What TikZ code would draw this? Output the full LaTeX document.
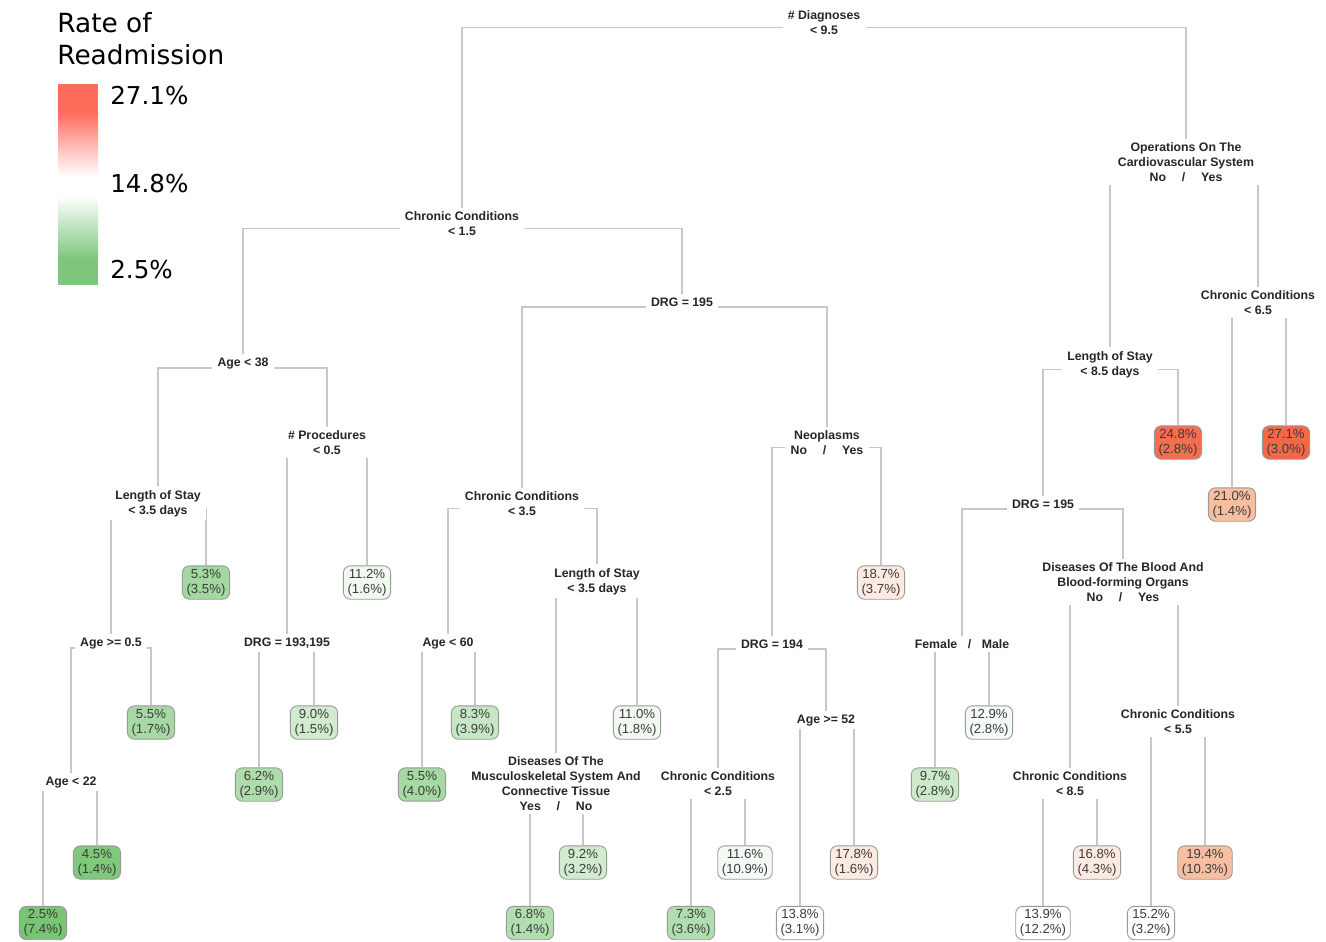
\documentclass[tikz,border=0pt]{standalone}
\usepackage{fontspec}
\setmainfont{Liberation Sans}
\newfontfamily\legendfont{DejaVu Sans}
\usepackage{xcolor}
\usepackage{tikz}
\usetikzlibrary{calc, backgrounds}
\definecolor{lowgreen}{RGB}{120,198,115}
\definecolor{highred}{RGB}{244,104,72}
\definecolor{warmred}{RGB}{240,120,60}
\definecolor{legendred}{RGB}{255,108,92}
\definecolor{legendgreen}{RGB}{125,198,123}
\definecolor{branchgray}{RGB}{200,200,200}
\definecolor{leaftext}{RGB}{60,60,60}
\tikzset{
  split/.style={rectangle, fill=white, inner xsep=3pt, inner ysep=2pt, align=center, font=\fontsize{7}{8.5}\selectfont\bfseries, text=black!85},
  leaf/.style={rectangle, rounded corners=4pt, draw=gray!80, line width=0.5pt, inner xsep=2.4pt, inner ysep=1.8pt, align=center, font=\fontsize{7.5}{8.6}\selectfont, text=leaftext},
  branch/.style={draw=branchgray, line width=0.7pt, to path={($(\tikztostart.center)+(0,-2.8pt)$) -| (\tikztotarget.north)}},
  legendlabel/.style={anchor=west, inner sep=0pt, font=\legendfont\fontsize{14}{16}\selectfont}
}

\begin{document}
\begin{tikzpicture}[x=0.02cm, y=-0.02cm]
    \useasboundingbox (0,0) rectangle (1326,941);

    % Legend
    \node[anchor=north west, inner sep=0pt, align=left, font=\legendfont\fontsize{15}{18.2}\selectfont] (legtitle) at (57,12) {Rate of\\Readmission};
    \fill[legendred] (58,84) rectangle (98,113);
    \shade[top color=legendred, bottom color=white] (58,112) rectangle (98,176);
    \shade[top color=white, bottom color=legendgreen] (58,196) rectangle (98,259);
    \fill[legendgreen] (58,258) rectangle (98,285);
    \node[legendlabel] (legmax) at (110,96) {27.1\%};
    \node[legendlabel] (legmid) at (110,184) {14.8\%};
    \node[legendlabel] (legmin) at (110,270) {2.5\%};

    % Splits
    \node[split] (root) at (824,22.5) {\# Diagnoses\\< 9.5};
    \node[split] (cc15) at (462,223.5) {Chronic Conditions\\< 1.5};
    \node[split, inner xsep=6pt] (ops) at (1186,162) {Operations On The\\Cardiovascular System\\No\hspace{9pt}/\hspace{9pt}Yes};
    \node[split] (age38) at (243,363) {Age < 38};
    \node[split] (drg195a) at (682,302) {DRG = 195};
    \node[split] (cc65) at (1258,302.5) {Chronic Conditions\\< 6.5};
    \node[split] (los85) at (1110,364.5) {Length of Stay\\< 8.5 days};
    \node[split] (proc) at (327,442.5) {\# Procedures\\< 0.5};
    \node[split] (neo) at (827,442.5) {Neoplasms\\No\hspace{9pt}/\hspace{9pt}Yes};
    \node[split] (los35a) at (158,503.5) {Length of Stay\\< 3.5 days};
    \node[split] (cc35) at (522,503.5) {Chronic Conditions\\< 3.5};
    \node[split] (drg195b) at (1043,504) {DRG = 195};
    \node[split] (los35b) at (597,581.5) {Length of Stay\\< 3.5 days};
    \node[split] (blood) at (1123,582) {Diseases Of The Blood And\\Blood-forming Organs\\No\hspace{9pt}/\hspace{9pt}Yes};
    \node[split] (age05) at (111,643) {Age >= 0.5};
    \node[split] (drg193) at (287,643) {DRG = 193,195};
    \node[split] (age60) at (448,643) {Age < 60};
    \node[split] (drg194) at (772,644) {DRG = 194};
    \node[split] (sex) at (962,644) {Female\hspace{6pt}/\hspace{6pt}Male};
    \node[split] (age52) at (826,720) {Age >= 52};
    \node[split] (cc55) at (1178,721.5) {Chronic Conditions\\< 5.5};
    \node[split] (age22) at (71,782) {Age < 22};
    \node[split] (musc) at (556,783.5) {Diseases Of The\\Musculoskeletal System And\\Connective Tissue\\Yes\hspace{9pt}/\hspace{9pt}No};
    \node[split] (cc25) at (718,783.5) {Chronic Conditions\\< 2.5};
    \node[split] (cc85) at (1070,783.5) {Chronic Conditions\\< 8.5};

    % Leaves
    \node[leaf, fill=lowgreen!68] (l53) at (206,582.5) {5.3\%\\(3.5\%)};
    \node[leaf, fill=lowgreen!10] (l112) at (367,582.5) {11.2\%\\(1.6\%)};
    \node[leaf, fill=warmred!15] (l187) at (881,582.5) {18.7\%\\(3.7\%)};
    \node[leaf, fill=highred!96] (l248) at (1178,442.5) {24.8\%\\(2.8\%)};
    \node[leaf, fill=highred] (l271) at (1286,442.5) {27.1\%\\(3.0\%)};
    \node[leaf, fill=warmred!48] (l210) at (1232,504.5) {21.0\%\\(1.4\%)};
    \node[leaf, fill=lowgreen!66] (l55a) at (151,722.5) {5.5\%\\(1.7\%)};
    \node[leaf, fill=lowgreen!35] (l90) at (314,722.5) {9.0\%\\(1.5\%)};
    \node[leaf, fill=lowgreen!42] (l83) at (475,722.5) {8.3\%\\(3.9\%)};
    \node[leaf, fill=lowgreen!10] (l110) at (637,722.5) {11.0\%\\(1.8\%)};
    \node[leaf, fill=lowgreen!8] (l129) at (989,722.5) {12.9\%\\(2.8\%)};
    \node[leaf, fill=lowgreen!60] (l62) at (259,784.5) {6.2\%\\(2.9\%)};
    \node[leaf, fill=lowgreen!66] (l55b) at (422,784.5) {5.5\%\\(4.0\%)};
    \node[leaf, fill=lowgreen!38] (l97) at (935,784.5) {9.7\%\\(2.8\%)};
    \node[leaf, fill=lowgreen!95] (l45) at (97,862.5) {4.5\%\\(1.4\%)};
    \node[leaf, fill=lowgreen!35] (l92) at (583,862.5) {9.2\%\\(3.2\%)};
    \node[leaf, fill=lowgreen!8] (l116) at (745,862.5) {11.6\%\\(10.9\%)};
    \node[leaf, fill=warmred!15] (l178) at (854,862.5) {17.8\%\\(1.6\%)};
    \node[leaf, fill=warmred!15] (l168) at (1097,862.5) {16.8\%\\(4.3\%)};
    \node[leaf, fill=warmred!48] (l194) at (1205,862.5) {19.4\%\\(10.3\%)};
    \node[leaf, fill=lowgreen] (l25) at (43,923) {2.5\%\\(7.4\%)};
    \node[leaf, fill=lowgreen!58] (l68) at (530,923) {6.8\%\\(1.4\%)};
    \node[leaf, fill=lowgreen!58] (l73) at (691,923) {7.3\%\\(3.6\%)};
    \node[leaf, fill=white] (l138) at (800,923) {13.8\%\\(3.1\%)};
    \node[leaf, fill=white] (l139) at (1043,923) {13.9\%\\(12.2\%)};
    \node[leaf, fill=white] (l152) at (1151,923) {15.2\%\\(3.2\%)};

    % Branches
    \begin{scope}[on background layer]
    \draw[branch] (root) to (cc15);
    \draw[branch] (root) to (ops);
    \draw[branch] (cc15) to (age38);
    \draw[branch] (cc15) to (drg195a);
    \draw[branch] (ops) to (los85);
    \draw[branch] (ops) to (cc65);
    \draw[branch] (age38) to (los35a);
    \draw[branch] (age38) to (proc);
    \draw[branch] (drg195a) to (cc35);
    \draw[branch] (drg195a) to (neo);
    \draw[branch] (cc65) to (l210);
    \draw[branch] (cc65) to (l271);
    \draw[branch] (los85) to (drg195b);
    \draw[branch] (los85) to (l248);
    \draw[branch] (proc) to (drg193);
    \draw[branch] (proc) to (l112);
    \draw[branch] (neo) to (drg194);
    \draw[branch] (neo) to (l187);
    \draw[branch] (los35a) to (age05);
    \draw[branch] (los35a) to (l53);
    \draw[branch] (cc35) to (age60);
    \draw[branch] (cc35) to (los35b);
    \draw[branch] (drg195b) to (sex);
    \draw[branch] (drg195b) to (blood);
    \draw[branch] (los35b) to (musc);
    \draw[branch] (los35b) to (l110);
    \draw[branch] (blood) to (cc85);
    \draw[branch] (blood) to (cc55);
    \draw[branch] (age05) to (age22);
    \draw[branch] (age05) to (l55a);
    \draw[branch] (drg193) to (l62);
    \draw[branch] (drg193) to (l90);
    \draw[branch] (age60) to (l55b);
    \draw[branch] (age60) to (l83);
    \draw[branch] (drg194) to (cc25);
    \draw[branch] (drg194) to (age52);
    \draw[branch] (sex) to (l97);
    \draw[branch] (sex) to (l129);
    \draw[branch] (age52) to (l138);
    \draw[branch] (age52) to (l178);
    \draw[branch] (cc55) to (l152);
    \draw[branch] (cc55) to (l194);
    \draw[branch] (age22) to (l25);
    \draw[branch] (age22) to (l45);
    \draw[branch] (musc) to (l68);
    \draw[branch] (musc) to (l92);
    \draw[branch] (cc25) to (l73);
    \draw[branch] (cc25) to (l116);
    \draw[branch] (cc85) to (l139);
    \draw[branch] (cc85) to (l168);
    \end{scope}
\end{tikzpicture}
\end{document}
